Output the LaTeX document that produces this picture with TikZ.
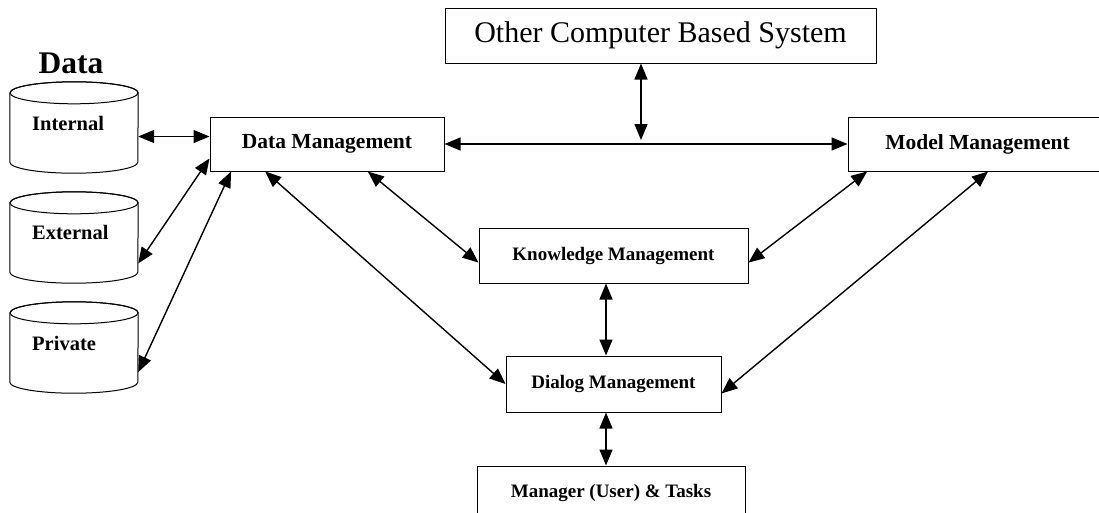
\documentclass[tikz,border=0pt]{standalone}
\usepackage{fontspec}
\setmainfont{Liberation Serif}
\usetikzlibrary{arrows.meta,calc}

\newcommand{\fsz}[1]{\fontsize{#1}{#1}\selectfont}
\tikzset{
  mgmt/.style={draw, line width=1pt, inner sep=0pt, minimum height=54pt},
  dbcyl/.style={inner sep=0pt, minimum width=128pt, minimum height=91pt},
  dblabel/.style={anchor=west, inner sep=0pt, font={\bfseries\fsz{20.5}}},
  link/.style={{Triangle[length=16pt,width=13pt]}-{Triangle[length=16pt,width=13pt]},
    line width=1.4pt},
}

\begin{document}
\begin{tikzpicture}[x=1pt,y=-1pt]
    \useasboundingbox (0,0) rectangle (1099,512);

    % management boxes
    \node[mgmt, font=\fsz{30}, minimum width=431pt, minimum height=55pt]
      (ocbs) at (660.5,35.5) {Other Computer Based System};
    \node[mgmt, font={\bfseries\fsz{21.5}}, minimum width=234pt]
      (dm) at (327,144) {Data Management};
    \node[mgmt, font={\bfseries\fsz{21.5}}, minimum width=259pt]
      (mm) at (977.5,144) {Model Management};
    \node[mgmt, font={\bfseries\fsz{19}}, minimum width=269pt, minimum height=55pt]
      (km) at (613.5,255.5) {Knowledge Management};
    \node[mgmt, font={\bfseries\fsz{19}}, minimum width=215pt, minimum height=56pt]
      (dlg) at (613.5,384) {Dialog Management};
    \node[mgmt, font={\bfseries\fsz{19}}, minimum width=268pt]
      (mgr) at (611,493) {Manager (User) \& Tasks};

    % data stores
    \node[font={\bfseries\fsz{31.5}}, inner sep=0pt] (dathead) at (71,63) {Data};
    \node[dbcyl] (intl) at (74,127.5) {};
    \node[dbcyl] (extl) at (74,237.5) {};
    \node[dbcyl] (priv) at (74,347.5) {};
    \foreach \db in {intl,extl,priv} {
      \draw[line width=1pt]
        ([yshift=-11pt]\db.north west) -- ([yshift=11pt]\db.south west)
        arc[start angle=180, end angle=360, x radius=64pt, y radius=11pt]
        -- ([yshift=-11pt]\db.north east)
        arc[start angle=0, end angle=180, x radius=64pt, y radius=11pt];
      \draw[line width=1pt] ([yshift=-11pt]\db.north) ellipse [x radius=64pt, y radius=11pt];
    }
    \node[dblabel] (intlt) at ([shift={(-42,-4.5)}]intl.center) {Internal};
    \node[dblabel] (extlt) at ([shift={(-42,-5.5)}]extl.center) {External};
    \node[dblabel] (privt) at ([shift={(-42,-4.5)}]priv.center) {Private};

    % connectors
    \coordinate (hub) at (641,140);
    \coordinate (spine) at (606,0);
    \draw[link] (intl.-8.4) -- (intl.-8.4 -| dm.west);
    \draw[link] (extl.-22) -- (dm.187);
    \draw[link] (priv.-21) -- (dm.196);
    \draw[link] (dm.204) -- (dlg.west);
    \draw[link] (dm.-34) -- (km.183);
    \draw[link] (dm.east) -- (mm.west);
    \draw[link] (hub |- ocbs.south) -- (hub);
    \draw[link] (km.-3) -- (mm.194.5);
    \draw[link] (dlg.-5) -- (mm.-69);
    \draw[link] (spine |- km.south) -- (spine |- dlg.north);
    \draw[link] (spine |- dlg.south) -- (spine |- mgr.north);
\end{tikzpicture}
\end{document}
